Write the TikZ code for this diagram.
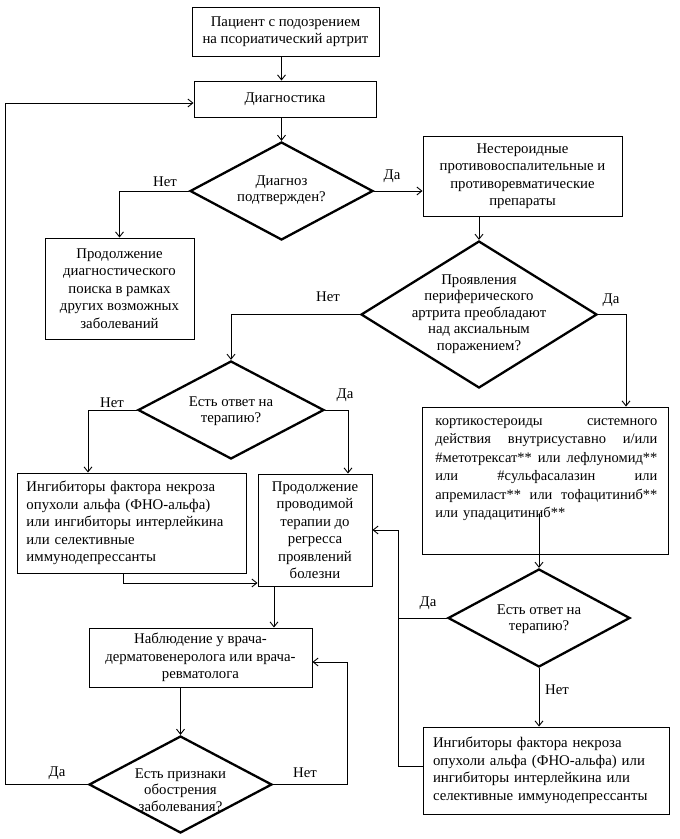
\documentclass[tikz,border=0pt]{standalone}
\usepackage{fontspec}
\setmainfont{Liberation Serif}
\usetikzlibrary{arrows.meta,shapes.geometric}
\newcommand{\jline}[1]{\makebox[222pt][s]{\spaceskip=0.25em plus 1fil\relax #1}}

\begin{document}
\begin{tikzpicture}[x=1pt, y=-1pt,
    box/.style={rectangle, draw=black, line width=0.9pt, inner sep=0pt,
                align=center, font=\fontsize{14.8}{17.5}\selectfont},
    dec/.style={diamond, draw=black, line width=2.3pt, inner sep=0pt},
    dtext/.style={align=center, inner sep=0pt, font=\fontsize{14.8}{16.5}\selectfont},
    yn/.style={inner sep=0pt, font=\fontsize{14.8}{17}\selectfont},
    arr/.style={-{Straight Barb[length=5pt,width=8pt]}, line width=0.9pt},
    ln/.style={line width=0.9pt}
  ]
  \useasboundingbox (0,0) rectangle (680,839);

  \node[box, minimum width=187, minimum height=49] (pat) at (285.5,31.5) {Пациент с подозрением\\на псориатический артрит};
  \node[box, minimum width=182, minimum height=36] (diag) at (285,99) {Диагностика};
  \node[dec, minimum width=183, minimum height=98] (q1) at (281.5,191) {};
  \node[dtext] (q1t) at (281.5,190) {Диагноз\\подтвержден?};
  \node[box, minimum width=149, minimum height=101] (more) at (119.5,288.5) {Продолжение\\диагностического\\поиска в рамках\\других возможных\\заболеваний};
  \node[box, minimum width=199, minimum height=80] (nsaid) at (522.5,176) {Нестероидные\\противовоспалительные и\\противоревматические\\препараты};

  \node[dec, minimum width=236, minimum height=147] (q2) at (479,314.5) {};
  \node[dtext] (q2t) at (479,314) {Проявления\\периферического\\артрита преобладают\\над аксиальным\\поражением?};
  \node[dec, minimum width=186, minimum height=98] (q3) at (231,410) {};
  \node[dtext] (q3t) at (231,411) {Есть ответ на\\терапию?};

  \node[box, minimum width=229, minimum height=100, text width=210, align=left] (inh1) at (131.5,523) {Ингибиторы фактора некроза\\опухоли альфа (ФНО-альфа)\\или ингибиторы интерлейкина\\или селективные\\иммунодепрессанты};
  \node[box, minimum width=114, minimum height=112] (cont) at (315,530) {Продолжение\\проводимой\\терапии до\\регресса\\проявлений\\болезни};
  \node[box, minimum width=246, minimum height=147] (kort) at (545,480.5) {};
  \node[box, draw=none, text width=222, align=left, anchor=north west,
        font=\fontsize{14.5}{18.5}\selectfont] (kortt) at (435,418) {\jline{кортикостероиды системного}\\\jline{действия внутрисуставно и/или}\\\jline{\#метотрексат** или лефлуномид**}\\\jline{или \#сульфасалазин или}\\\jline{апремиласт** или тофацитиниб**}\\или упадацитиниб**};

  \node[dec, minimum width=182, minimum height=98] (q4) at (539,618) {};
  \node[dtext] (q4t) at (539,619) {Есть ответ на\\терапию?};
  \node[box, minimum width=246, minimum height=87, text width=226, align=left] (inh2) at (546,770.5) {Ингибиторы фактора некроза\\опухоли альфа (ФНО-альфа) или\\ингибиторы интерлейкина или\\селективные иммунодепрессанты};
  \node[box, minimum width=223, minimum height=59] (obs) at (200.5,657.5) {Наблюдение у врача-\\дерматовенеролога или врача-\\ревматолога};
  \node[dec, minimum width=183, minimum height=97] (q5) at (180.5,784.5) {};
  \node[dtext] (q5t) at (180.5,790) {Есть признаки\\обострения\\заболевания?};

  \node[yn] (q1n) at (165,182) {Нет};
  \node[yn] (q1y) at (392,176) {Да};
  \node[yn] (q2n) at (328,297) {Нет};
  \node[yn] (q2y) at (611,300) {Да};
  \node[yn] (q3n) at (112,403) {Нет};
  \node[yn] (q3y) at (345,395) {Да};
  \node[yn] (q4y) at (428,603) {Да};
  \node[yn] (q4n) at (557,690) {Нет};
  \node[yn] (q5y) at (57,773) {Да};
  \node[yn] (q5n) at (305,773) {Нет};

  \coordinate (c2) at (626,314.5);
  \coordinate (c3n) at (88,410);
  \coordinate (c3y) at (348,410);
  \coordinate (c4) at (123,583);
  \coordinate (c7) at (398,618);
  \coordinate (c8) at (398,766);
  \coordinate (c9) at (5,784.5);
  \coordinate (c10) at (347,784.5);

  \draw[arr] (pat.south -| q1.north) -- (diag.north -| q1.north);
  \draw[arr] (diag.south -| q1.north) -- (q1.north);
  \draw[arr] (q1.west) -| (more.north);
  \draw[arr] (q1.east) -- (q1.east -| nsaid.west);
  \draw[arr] (nsaid.south -| q2.north) -- (q2.north);
  \draw[arr] (q2.west) -| (q3.north);
  \draw[arr] (q2.east) -- (c2) -- (c2 |- kort.north);
  \draw[arr] (q3.west) -- (c3n) -- (c3n |- inh1.north);
  \draw[arr] (q3.east) -- (c3y) -- (c3y |- cont.north);
  \draw[arr] (c4 |- inh1.south) -- (c4) -- (c4 -| cont.west);
  \draw[arr] ([xshift=-41pt]cont.south) -- ([xshift=-41pt]cont.south |- obs.north);
  \draw[arr] (q4.north) ++(0,-54) -- (q4.north);
  \draw[arr] (q4.west) -- (c7) |- (cont.east);
  \draw[ln] (c8 -| inh2.west) -- (c8) -- (c7);
  \draw[arr] (q4.south) -- (q4.south |- inh2.north);
  \draw[arr] (obs.south -| q5.north) -- (q5.north);
  \draw[arr] (q5.west) -- (c9) |- ([yshift=-4pt]diag.west);
  \draw[arr] (q5.east) -- (c10) |- ([yshift=-4.5pt]obs.east);
\end{tikzpicture}
\end{document}
